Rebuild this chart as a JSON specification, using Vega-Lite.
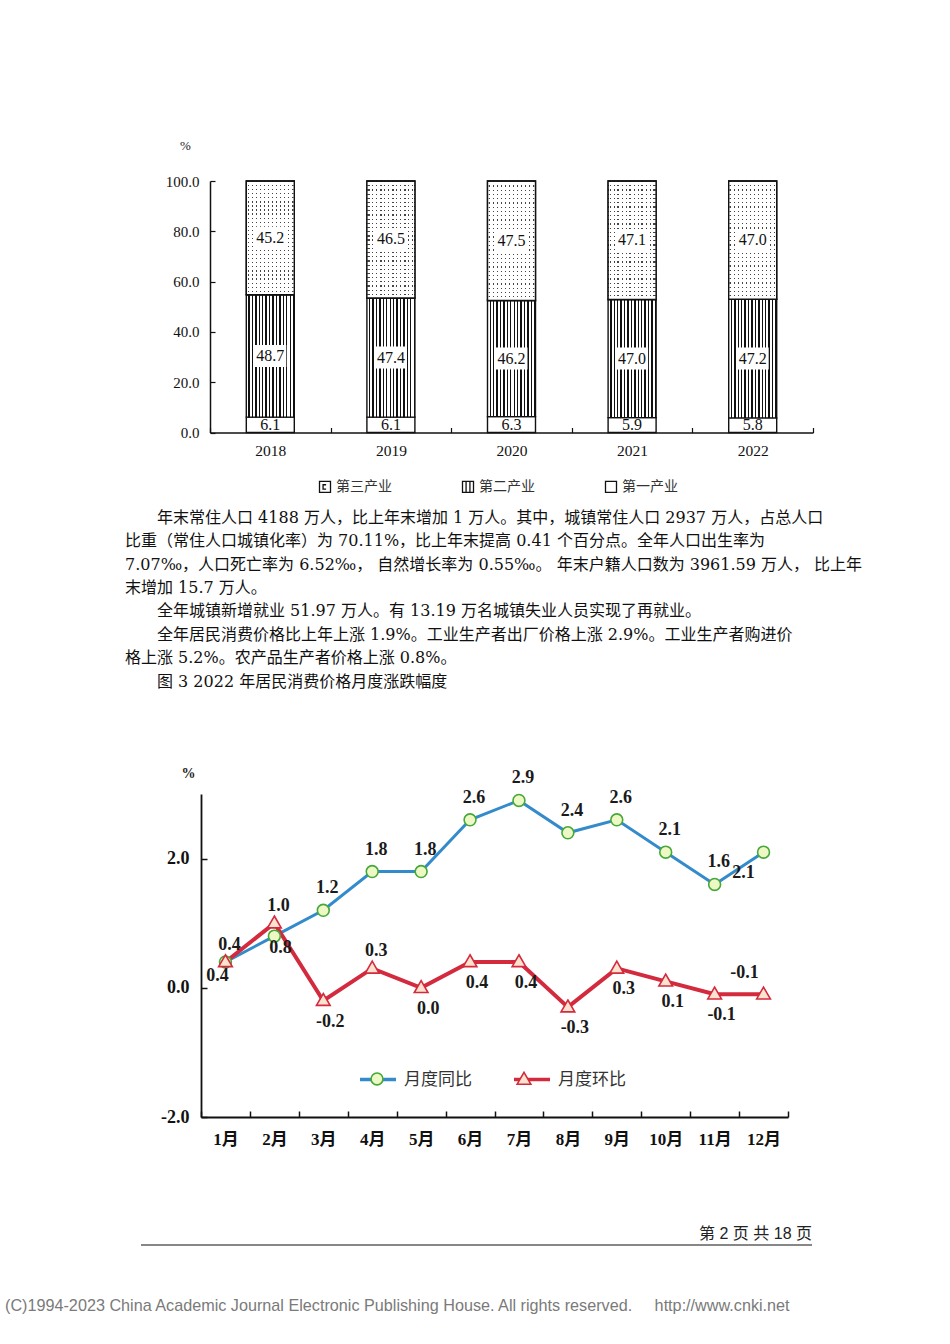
{
"$schema": "https://vega.github.io/schema/vega-lite/v6.json",
"autosize": {"type": "none"},
"padding": {"left": 0, "top": 0, "right": 950, "bottom": 1344},
"background": "#ffffff",
"config": {"view": {"stroke": null}, "axis": {"grid": false}},
"spacing": 0,
"bounds": "flush",
"resolve": {"scale": {"shape": "independent", "stroke": "independent", "fill": "independent"}, "legend": {"shape": "independent", "stroke": "independent", "fill": "independent"}},
"vconcat": [
{"vconcat": [
 {"width": 1, "height": 180.5, "data": {"values": [{"s": ""}]}, "mark": {"type": "text"}, "encoding": {"text": {"field": "s"}}},
 {"hconcat": [
  {"width": 210, "height": 1, "data": {"values": [{"s": ""}]}, "mark": {"type": "text"}, "encoding": {"text": {"field": "s"}}},
  {"width": 603, "height": 251.5,
   "data": {"values": [
    {"year": "2018", "industry": "第一产业", "value": 6.1},
    {"year": "2018", "industry": "第二产业", "value": 48.7},
    {"year": "2018", "industry": "第三产业", "value": 45.2},
    {"year": "2019", "industry": "第一产业", "value": 6.1},
    {"year": "2019", "industry": "第二产业", "value": 47.4},
    {"year": "2019", "industry": "第三产业", "value": 46.5},
    {"year": "2020", "industry": "第一产业", "value": 6.3},
    {"year": "2020", "industry": "第二产业", "value": 46.2},
    {"year": "2020", "industry": "第三产业", "value": 47.5},
    {"year": "2021", "industry": "第一产业", "value": 5.9},
    {"year": "2021", "industry": "第二产业", "value": 47.0},
    {"year": "2021", "industry": "第三产业", "value": 47.1},
    {"year": "2022", "industry": "第一产业", "value": 5.8},
    {"year": "2022", "industry": "第二产业", "value": 47.2},
    {"year": "2022", "industry": "第三产业", "value": 47.0}
   ]},
   "transform": [
    {"calculate": "indexof(['第一产业','第二产业','第三产业'], datum.industry)", "as": "rank"},
    {"stack": "value", "groupby": ["year"], "sort": [{"field": "rank", "order": "ascending"}], "as": ["v0", "v1"]},
    {"calculate": "(datum.v0 + datum.v1) / 2", "as": "mid"}
   ],
   "encoding": {
    "x": {"field": "year", "type": "nominal", "scale": {"type": "band", "paddingInner": 0, "paddingOuter": 0},
      "axis": {"title": null, "labelAngle": 0, "tickBand": "extent", "tickSize": -5, "tickColor": "#111", "tickWidth": 1.2, "domainColor": "#111", "domainWidth": 1.5, "labelFont": "Liberation Serif", "labelFontSize": 15.5, "labelColor": "#111", "labelPadding": 16, "labelBaseline": "top"}}
   },
   "layer": [
    {"mark": {"type": "bar", "width": 48, "stroke": "#111", "strokeWidth": 1.4},
     "encoding": {
      "y": {"field": "v0", "type": "quantitative", "scale": {"domain": [0, 100], "nice": false},
        "axis": {"values": [0, 20, 40, 60, 80, 100], "format": ".1f", "title": "%", "titleAngle": 0, "titleX": -25, "titleY": -36, "titleAlign": "center", "titleBaseline": "middle", "titleFont": "Liberation Serif", "titleFontSize": 13, "titleFontWeight": "normal", "titleColor": "#222", "tickSize": -5, "tickColor": "#111", "tickWidth": 1.2, "domainColor": "#111", "domainWidth": 1.5, "labelFont": "Liberation Serif", "labelFontSize": 15, "labelColor": "#111", "labelPadding": 16}},
      "y2": {"field": "v1"},
      "fill": {"condition": [
        {"test": "datum.industry === '第二产业'", "value": {"gradient": "linear", "x1": 0, "y1": 0, "x2": 1, "y2": 0, "stops": [
          {"offset": 0, "color": "#ffffff"}, {"offset": 0.0429, "color": "#ffffff"}, {"offset": 0.0429, "color": "#111111"}, {"offset": 0.0714, "color": "#111111"},
          {"offset": 0.0714, "color": "#ffffff"}, {"offset": 0.1143, "color": "#ffffff"}, {"offset": 0.1143, "color": "#111111"}, {"offset": 0.1429, "color": "#111111"},
          {"offset": 0.1429, "color": "#ffffff"}, {"offset": 0.1857, "color": "#ffffff"}, {"offset": 0.1857, "color": "#111111"}, {"offset": 0.2143, "color": "#111111"},
          {"offset": 0.2143, "color": "#ffffff"}, {"offset": 0.2571, "color": "#ffffff"}, {"offset": 0.2571, "color": "#111111"}, {"offset": 0.2857, "color": "#111111"},
          {"offset": 0.2857, "color": "#ffffff"}, {"offset": 0.3286, "color": "#ffffff"}, {"offset": 0.3286, "color": "#111111"}, {"offset": 0.3571, "color": "#111111"},
          {"offset": 0.3571, "color": "#ffffff"}, {"offset": 0.4, "color": "#ffffff"}, {"offset": 0.4, "color": "#111111"}, {"offset": 0.4286, "color": "#111111"},
          {"offset": 0.4286, "color": "#ffffff"}, {"offset": 0.4714, "color": "#ffffff"}, {"offset": 0.4714, "color": "#111111"}, {"offset": 0.5, "color": "#111111"},
          {"offset": 0.5, "color": "#ffffff"}, {"offset": 0.5429, "color": "#ffffff"}, {"offset": 0.5429, "color": "#111111"}, {"offset": 0.5714, "color": "#111111"},
          {"offset": 0.5714, "color": "#ffffff"}, {"offset": 0.6143, "color": "#ffffff"}, {"offset": 0.6143, "color": "#111111"}, {"offset": 0.6429, "color": "#111111"},
          {"offset": 0.6429, "color": "#ffffff"}, {"offset": 0.6857, "color": "#ffffff"}, {"offset": 0.6857, "color": "#111111"}, {"offset": 0.7143, "color": "#111111"},
          {"offset": 0.7143, "color": "#ffffff"}, {"offset": 0.7571, "color": "#ffffff"}, {"offset": 0.7571, "color": "#111111"}, {"offset": 0.7857, "color": "#111111"},
          {"offset": 0.7857, "color": "#ffffff"}, {"offset": 0.8286, "color": "#ffffff"}, {"offset": 0.8286, "color": "#111111"}, {"offset": 0.8571, "color": "#111111"},
          {"offset": 0.8571, "color": "#ffffff"}, {"offset": 0.9, "color": "#ffffff"}, {"offset": 0.9, "color": "#111111"}, {"offset": 0.9286, "color": "#111111"},
          {"offset": 0.9286, "color": "#ffffff"}, {"offset": 0.9714, "color": "#ffffff"}, {"offset": 0.9714, "color": "#111111"}, {"offset": 1, "color": "#111111"}
        ]}},
        {"test": "datum.industry === '第三产业'", "value": {"gradient": "linear", "x1": 0, "y1": 0, "x2": 1, "y2": 0, "stops": [
          {"offset": 0, "color": "#ffffff"},
          {"offset": 0.0292, "color": "#ffffff"}, {"offset": 0.0292, "color": "#444444"}, {"offset": 0.0542, "color": "#444444"}, {"offset": 0.0542, "color": "#ffffff"},
          {"offset": 0.1125, "color": "#ffffff"}, {"offset": 0.1125, "color": "#444444"}, {"offset": 0.1375, "color": "#444444"}, {"offset": 0.1375, "color": "#ffffff"},
          {"offset": 0.1958, "color": "#ffffff"}, {"offset": 0.1958, "color": "#444444"}, {"offset": 0.2208, "color": "#444444"}, {"offset": 0.2208, "color": "#ffffff"},
          {"offset": 0.2792, "color": "#ffffff"}, {"offset": 0.2792, "color": "#444444"}, {"offset": 0.3042, "color": "#444444"}, {"offset": 0.3042, "color": "#ffffff"},
          {"offset": 0.3625, "color": "#ffffff"}, {"offset": 0.3625, "color": "#444444"}, {"offset": 0.3875, "color": "#444444"}, {"offset": 0.3875, "color": "#ffffff"},
          {"offset": 0.4458, "color": "#ffffff"}, {"offset": 0.4458, "color": "#444444"}, {"offset": 0.4708, "color": "#444444"}, {"offset": 0.4708, "color": "#ffffff"},
          {"offset": 0.5292, "color": "#ffffff"}, {"offset": 0.5292, "color": "#444444"}, {"offset": 0.5542, "color": "#444444"}, {"offset": 0.5542, "color": "#ffffff"},
          {"offset": 0.6125, "color": "#ffffff"}, {"offset": 0.6125, "color": "#444444"}, {"offset": 0.6375, "color": "#444444"}, {"offset": 0.6375, "color": "#ffffff"},
          {"offset": 0.6958, "color": "#ffffff"}, {"offset": 0.6958, "color": "#444444"}, {"offset": 0.7208, "color": "#444444"}, {"offset": 0.7208, "color": "#ffffff"},
          {"offset": 0.7792, "color": "#ffffff"}, {"offset": 0.7792, "color": "#444444"}, {"offset": 0.8042, "color": "#444444"}, {"offset": 0.8042, "color": "#ffffff"},
          {"offset": 0.8625, "color": "#ffffff"}, {"offset": 0.8625, "color": "#444444"}, {"offset": 0.8875, "color": "#444444"}, {"offset": 0.8875, "color": "#ffffff"},
          {"offset": 0.9458, "color": "#ffffff"}, {"offset": 0.9458, "color": "#444444"}, {"offset": 0.9708, "color": "#444444"}, {"offset": 0.9708, "color": "#ffffff"},
          {"offset": 1, "color": "#ffffff"}
        ]}}
       ], "value": "#ffffff"}
     }},
    {"transform": [{"filter": "datum.industry === '第三产业'"}],
     "mark": {"type": "bar", "width": 48, "stroke": "#111", "strokeWidth": 1.4, "fill": {"gradient": "linear", "x1": 0, "y1": 0, "x2": 0, "y2": 1, "stops": [
       {"offset": 0, "color": "rgba(255,255,255,0)"}, {"offset": 0.0107, "color": "rgba(255,255,255,0)"}, {"offset": 0.0107, "color": "#ffffff"}, {"offset": 0.0357, "color": "#ffffff"},
       {"offset": 0.0357, "color": "rgba(255,255,255,0)"}, {"offset": 0.0464, "color": "rgba(255,255,255,0)"}, {"offset": 0.0464, "color": "#ffffff"}, {"offset": 0.0714, "color": "#ffffff"},
       {"offset": 0.0714, "color": "rgba(255,255,255,0)"}, {"offset": 0.0821, "color": "rgba(255,255,255,0)"}, {"offset": 0.0821, "color": "#ffffff"}, {"offset": 0.1071, "color": "#ffffff"},
       {"offset": 0.1071, "color": "rgba(255,255,255,0)"}, {"offset": 0.1179, "color": "rgba(255,255,255,0)"}, {"offset": 0.1179, "color": "#ffffff"}, {"offset": 0.1429, "color": "#ffffff"},
       {"offset": 0.1429, "color": "rgba(255,255,255,0)"}, {"offset": 0.1536, "color": "rgba(255,255,255,0)"}, {"offset": 0.1536, "color": "#ffffff"}, {"offset": 0.1786, "color": "#ffffff"},
       {"offset": 0.1786, "color": "rgba(255,255,255,0)"}, {"offset": 0.1893, "color": "rgba(255,255,255,0)"}, {"offset": 0.1893, "color": "#ffffff"}, {"offset": 0.2143, "color": "#ffffff"},
       {"offset": 0.2143, "color": "rgba(255,255,255,0)"}, {"offset": 0.225, "color": "rgba(255,255,255,0)"}, {"offset": 0.225, "color": "#ffffff"}, {"offset": 0.25, "color": "#ffffff"},
       {"offset": 0.25, "color": "rgba(255,255,255,0)"}, {"offset": 0.2607, "color": "rgba(255,255,255,0)"}, {"offset": 0.2607, "color": "#ffffff"}, {"offset": 0.2857, "color": "#ffffff"},
       {"offset": 0.2857, "color": "rgba(255,255,255,0)"}, {"offset": 0.2964, "color": "rgba(255,255,255,0)"}, {"offset": 0.2964, "color": "#ffffff"}, {"offset": 0.3214, "color": "#ffffff"},
       {"offset": 0.3214, "color": "rgba(255,255,255,0)"}, {"offset": 0.3321, "color": "rgba(255,255,255,0)"}, {"offset": 0.3321, "color": "#ffffff"}, {"offset": 0.3571, "color": "#ffffff"},
       {"offset": 0.3571, "color": "rgba(255,255,255,0)"}, {"offset": 0.3679, "color": "rgba(255,255,255,0)"}, {"offset": 0.3679, "color": "#ffffff"}, {"offset": 0.3929, "color": "#ffffff"},
       {"offset": 0.3929, "color": "rgba(255,255,255,0)"}, {"offset": 0.4036, "color": "rgba(255,255,255,0)"}, {"offset": 0.4036, "color": "#ffffff"}, {"offset": 0.4286, "color": "#ffffff"},
       {"offset": 0.4286, "color": "rgba(255,255,255,0)"}, {"offset": 0.4393, "color": "rgba(255,255,255,0)"}, {"offset": 0.4393, "color": "#ffffff"}, {"offset": 0.4643, "color": "#ffffff"},
       {"offset": 0.4643, "color": "rgba(255,255,255,0)"}, {"offset": 0.475, "color": "rgba(255,255,255,0)"}, {"offset": 0.475, "color": "#ffffff"}, {"offset": 0.5, "color": "#ffffff"},
       {"offset": 0.5, "color": "rgba(255,255,255,0)"}, {"offset": 0.5107, "color": "rgba(255,255,255,0)"}, {"offset": 0.5107, "color": "#ffffff"}, {"offset": 0.5357, "color": "#ffffff"},
       {"offset": 0.5357, "color": "rgba(255,255,255,0)"}, {"offset": 0.5464, "color": "rgba(255,255,255,0)"}, {"offset": 0.5464, "color": "#ffffff"}, {"offset": 0.5714, "color": "#ffffff"},
       {"offset": 0.5714, "color": "rgba(255,255,255,0)"}, {"offset": 0.5821, "color": "rgba(255,255,255,0)"}, {"offset": 0.5821, "color": "#ffffff"}, {"offset": 0.6071, "color": "#ffffff"},
       {"offset": 0.6071, "color": "rgba(255,255,255,0)"}, {"offset": 0.6179, "color": "rgba(255,255,255,0)"}, {"offset": 0.6179, "color": "#ffffff"}, {"offset": 0.6429, "color": "#ffffff"},
       {"offset": 0.6429, "color": "rgba(255,255,255,0)"}, {"offset": 0.6536, "color": "rgba(255,255,255,0)"}, {"offset": 0.6536, "color": "#ffffff"}, {"offset": 0.6786, "color": "#ffffff"},
       {"offset": 0.6786, "color": "rgba(255,255,255,0)"}, {"offset": 0.6893, "color": "rgba(255,255,255,0)"}, {"offset": 0.6893, "color": "#ffffff"}, {"offset": 0.7143, "color": "#ffffff"},
       {"offset": 0.7143, "color": "rgba(255,255,255,0)"}, {"offset": 0.725, "color": "rgba(255,255,255,0)"}, {"offset": 0.725, "color": "#ffffff"}, {"offset": 0.75, "color": "#ffffff"},
       {"offset": 0.75, "color": "rgba(255,255,255,0)"}, {"offset": 0.7607, "color": "rgba(255,255,255,0)"}, {"offset": 0.7607, "color": "#ffffff"}, {"offset": 0.7857, "color": "#ffffff"},
       {"offset": 0.7857, "color": "rgba(255,255,255,0)"}, {"offset": 0.7964, "color": "rgba(255,255,255,0)"}, {"offset": 0.7964, "color": "#ffffff"}, {"offset": 0.8214, "color": "#ffffff"},
       {"offset": 0.8214, "color": "rgba(255,255,255,0)"}, {"offset": 0.8321, "color": "rgba(255,255,255,0)"}, {"offset": 0.8321, "color": "#ffffff"}, {"offset": 0.8571, "color": "#ffffff"},
       {"offset": 0.8571, "color": "rgba(255,255,255,0)"}, {"offset": 0.8679, "color": "rgba(255,255,255,0)"}, {"offset": 0.8679, "color": "#ffffff"}, {"offset": 0.8929, "color": "#ffffff"},
       {"offset": 0.8929, "color": "rgba(255,255,255,0)"}, {"offset": 0.9036, "color": "rgba(255,255,255,0)"}, {"offset": 0.9036, "color": "#ffffff"}, {"offset": 0.9286, "color": "#ffffff"},
       {"offset": 0.9286, "color": "rgba(255,255,255,0)"}, {"offset": 0.9393, "color": "rgba(255,255,255,0)"}, {"offset": 0.9393, "color": "#ffffff"}, {"offset": 0.9643, "color": "#ffffff"},
       {"offset": 0.9643, "color": "rgba(255,255,255,0)"}, {"offset": 0.975, "color": "rgba(255,255,255,0)"}, {"offset": 0.975, "color": "#ffffff"}, {"offset": 1, "color": "#ffffff"}
     ]}},
     "encoding": {"y": {"field": "v0", "type": "quantitative"}, "y2": {"field": "v1"}}},
    {"transform": [{"filter": "datum.industry !== '第一产业'"}],
     "mark": {"type": "point", "shape": "M-1,-0.69H1V0.69H-1Z", "size": 1024, "filled": true, "color": "#ffffff", "opacity": 1, "strokeWidth": 0},
     "encoding": {"y": {"field": "mid", "type": "quantitative"}}},
    {"mark": {"type": "text", "font": "Liberation Serif", "fontSize": 16, "color": "#111111", "baseline": "middle"},
     "encoding": {"y": {"field": "mid", "type": "quantitative"}, "text": {"field": "value", "type": "quantitative", "format": ".1f"}}},
    {"mark": {"type": "point", "opacity": 0},
     "encoding": {"shape": {"field": "industry", "type": "nominal",
       "scale": {"domain": ["第三产业", "第二产业", "第一产业"], "range": ["M-1,-1H1V1H-1Z M0.2,-0.4H-0.35V0.4H0.2", "M-1,-1H1V1H-1Z M-0.35,-1V1 M0.35,-1V1", "M-1,-1H1V1H-1Z"]},
       "legend": {"orient": "none", "legendX": 108, "legendY": 298.5, "direction": "horizontal", "title": null, "symbolSize": 121, "symbolStrokeColor": "#111", "symbolFillColor": "#ffffff", "symbolStrokeWidth": 1.3, "symbolOpacity": 1, "labelFont": "Noto Sans CJK SC", "labelFontSize": 14, "labelColor": "#333", "labelOpacity": 1, "labelOffset": 4, "columnPadding": 67, "padding": 0}}}}
   ]}
 ], "spacing": 0, "bounds": "flush",
 "resolve": {"scale": {"shape": "independent"}, "legend": {"shape": "independent"}}}
], "spacing": 0, "bounds": "flush",
 "resolve": {"scale": {"shape": "independent"}, "legend": {"shape": "independent"}}},
{"vconcat": [
 {"width": 1, "height": 505.3, "data": {"values": [{"s": ""}]}, "mark": {"type": "text"}, "encoding": {"text": {"field": "s"}}},
 {"hconcat": [
  {"width": 125, "height": 1, "data": {"values": [{"s": ""}]}, "mark": {"type": "text"}, "encoding": {"text": {"field": "s"}}},
  {"width": 720, "height": 187.5,
   "data": {"values": [
    {"line": 1, "text": "\u200b　　年末常住人口 4188 万人，比上年末增加 1 万人。其中，城镇常住人口 2937 万人，占总人口"},
    {"line": 2, "text": "比重（常住人口城镇化率）为 70.11%，比上年末提高 0.41 个百分点。全年人口出生率为"},
    {"line": 3, "text": "7.07‰，人口死亡率为 6.52‰， 自然增长率为 0.55‰。 年末户籍人口数为 3961.59 万人， 比上年"},
    {"line": 4, "text": "末增加 15.7 万人。"},
    {"line": 5, "text": "\u200b　　全年城镇新增就业 51.97 万人。有 13.19 万名城镇失业人员实现了再就业。"},
    {"line": 6, "text": "\u200b　　全年居民消费价格比上年上涨 1.9%。工业生产者出厂价格上涨 2.9%。工业生产者购进价"},
    {"line": 7, "text": "格上涨 5.2%。农产品生产者价格上涨 0.8%。"},
    {"line": 8, "text": "\u200b　　图 3 2022 年居民消费价格月度涨跌幅度"}
   ]},
   "mark": {"type": "text", "align": "left", "baseline": "middle", "font": "DejaVu Serif, Noto Sans CJK SC", "fontSize": 16, "color": "#111"},
   "encoding": {"x": {"value": 0}, "y": {"field": "line", "type": "ordinal", "axis": null}, "text": {"field": "text"}}}
 ], "spacing": 0, "bounds": "flush"}
], "spacing": 0, "bounds": "flush"},
{"vconcat": [
 {"width": 1, "height": 793.5, "data": {"values": [{"s": ""}]}, "mark": {"type": "text"}, "encoding": {"text": {"field": "s"}}},
 {"hconcat": [
  {"width": 201, "height": 1, "data": {"values": [{"s": ""}]}, "mark": {"type": "text"}, "encoding": {"text": {"field": "s"}}},
  {"width": 587, "height": 323,
   "data": {"values": [
    {"month": "1月", "series": "月度同比", "value": 0.4},
    {"month": "2月", "series": "月度同比", "value": 0.8},
    {"month": "3月", "series": "月度同比", "value": 1.2},
    {"month": "4月", "series": "月度同比", "value": 1.8},
    {"month": "5月", "series": "月度同比", "value": 1.8},
    {"month": "6月", "series": "月度同比", "value": 2.6},
    {"month": "7月", "series": "月度同比", "value": 2.9},
    {"month": "8月", "series": "月度同比", "value": 2.4},
    {"month": "9月", "series": "月度同比", "value": 2.6},
    {"month": "10月", "series": "月度同比", "value": 2.1},
    {"month": "11月", "series": "月度同比", "value": 1.6},
    {"month": "12月", "series": "月度同比", "value": 2.1},
    {"month": "1月", "series": "月度环比", "value": 0.4},
    {"month": "2月", "series": "月度环比", "value": 1.0},
    {"month": "3月", "series": "月度环比", "value": -0.2},
    {"month": "4月", "series": "月度环比", "value": 0.3},
    {"month": "5月", "series": "月度环比", "value": 0.0},
    {"month": "6月", "series": "月度环比", "value": 0.4},
    {"month": "7月", "series": "月度环比", "value": 0.4},
    {"month": "8月", "series": "月度环比", "value": -0.3},
    {"month": "9月", "series": "月度环比", "value": 0.3},
    {"month": "10月", "series": "月度环比", "value": 0.1},
    {"month": "11月", "series": "月度环比", "value": -0.1},
    {"month": "12月", "series": "月度环比", "value": -0.1}
   ]},
   "transform": [{"calculate": "replace(format(datum.value, '.1f'), '\u2212', '-')", "as": "lbl"}],
   "encoding": {
    "x": {"field": "month", "type": "nominal",
      "scale": {"type": "band", "paddingInner": 0, "paddingOuter": 0, "domain": ["1月","2月","3月","4月","5月","6月","7月","8月","9月","10月","11月","12月"]},
      "axis": {"title": null, "labelAngle": 0, "tickBand": "extent", "tickSize": -6, "tickColor": "#111", "tickWidth": 1.5, "domainColor": "#111", "domainWidth": 1.8, "labelFont": "Liberation Serif, Noto Sans CJK SC", "labelFontSize": 17, "labelFontWeight": "bold", "labelColor": "#111", "labelPadding": 20, "labelBaseline": "top"}},
    "y": {"field": "value", "type": "quantitative", "scale": {"domain": [-2, 3], "nice": false, "zero": false},
      "axis": {"values": [-2, 0, 2], "format": ".1f", "labelExpr": "replace(datum.label, '\u2212', '-')", "title": "%", "titleAngle": 0, "titleX": -13, "titleY": -21, "titleAlign": "center", "titleBaseline": "middle", "titleFont": "Liberation Serif", "titleFontSize": 14, "titleFontWeight": "bold", "titleColor": "#222", "tickSize": -6, "tickColor": "#111", "tickWidth": 1.5, "domainColor": "#111", "domainWidth": 1.8, "labelFont": "Liberation Serif", "labelFontSize": 18, "labelFontWeight": "bold", "labelColor": "#111", "labelPadding": 18}}
   },
   "resolve": {"scale": {"stroke": "independent", "shape": "independent", "fill": "independent"}, "legend": {"stroke": "independent", "shape": "independent", "fill": "independent"}},
   "layer": [
    {"mark": {"type": "line"},
     "encoding": {
      "stroke": {"field": "series", "type": "nominal", "scale": {"domain": ["月度同比", "月度环比"], "range": ["#338bcb", "#d32a3e"]},
        "legend": {"orient": "none", "legendX": 157, "legendY": 265.5, "direction": "horizontal", "title": null, "symbolType": "M-1,0H1", "symbolSize": 1296, "symbolStrokeWidth": 3.5, "labelFont": "Noto Sans CJK SC", "labelFontSize": 17, "labelColor": "#333", "labelOffset": 6, "columnPadding": 35, "padding": 0}},
      "strokeWidth": {"condition": {"test": "datum.series === '月度环比'", "value": 4}, "value": 3}
     }},
    {"mark": {"type": "point", "size": 1296, "opacity": 1, "strokeWidth": 1.6},
     "encoding": {
      "shape": {"field": "series", "type": "nominal",
        "scale": {"range": ["M0.33,0A0.33,0.33 0 1,1 -0.33,0A0.33,0.33 0 1,1 0.33,0Z", "M0,-0.4L0.38,0.26L-0.38,0.26Z"]},
        "legend": {"orient": "none", "legendX": 157, "legendY": 265.5, "direction": "horizontal", "title": null, "symbolSize": 1296, "symbolStrokeWidth": 1.6, "symbolOpacity": 1, "labelExpr": "''", "labelFontSize": 17, "labelOffset": 6, "columnPadding": 103, "padding": 0}},
      "fill": {"field": "series", "type": "nominal", "scale": {"range": ["#eef8c4", "#fde3cf"]},
        "legend": {"orient": "none", "legendX": 157, "legendY": 265.5, "direction": "horizontal", "title": null, "symbolSize": 1296, "symbolStrokeWidth": 1.6, "symbolOpacity": 1, "labelExpr": "''", "labelFontSize": 17, "labelOffset": 6, "columnPadding": 103, "padding": 0}},
      "stroke": {"field": "series", "type": "nominal", "scale": {"range": ["#45a83a", "#d32a3e"]},
        "legend": {"orient": "none", "legendX": 157, "legendY": 265.5, "direction": "horizontal", "title": null, "symbolSize": 1296, "symbolStrokeWidth": 1.6, "symbolOpacity": 1, "labelExpr": "''", "labelFontSize": 17, "labelOffset": 6, "columnPadding": 103, "padding": 0}}
     }},
    {"transform": [{"filter": "datum.series === '月度同比' && indexof(['1月','2月','12月'], datum.month) < 0"}],
     "mark": {"type": "text", "font": "Liberation Serif", "fontSize": 18, "fontWeight": "bold", "color": "#1a1a1a", "baseline": "middle", "dx": 4, "dy": -22},
     "encoding": {"text": {"field": "lbl"}}},
    {"transform": [{"filter": "datum.series === '月度同比' && datum.month === '2月'"}],
     "mark": {"type": "text", "font": "Liberation Serif", "fontSize": 18, "fontWeight": "bold", "color": "#1a1a1a", "baseline": "middle", "dx": 6, "dy": 12},
     "encoding": {"text": {"field": "lbl"}}},
    {"transform": [{"filter": "datum.series === '月度同比' && datum.month === '1月'"}],
     "mark": {"type": "text", "font": "Liberation Serif", "fontSize": 18, "fontWeight": "bold", "color": "#1a1a1a", "baseline": "middle", "dx": -8, "dy": 14},
     "encoding": {"text": {"field": "lbl"}}},
    {"transform": [{"filter": "datum.series === '月度同比' && datum.month === '12月'"}],
     "mark": {"type": "text", "font": "Liberation Serif", "fontSize": 18, "fontWeight": "bold", "color": "#1a1a1a", "baseline": "middle", "dx": -20, "dy": 21},
     "encoding": {"text": {"field": "lbl"}}},
    {"transform": [{"filter": "datum.series === '月度环比' && indexof(['1月','2月','4月'], datum.month) >= 0"}],
     "mark": {"type": "text", "font": "Liberation Serif", "fontSize": 18, "fontWeight": "bold", "color": "#1a1a1a", "baseline": "middle", "dx": 4, "dy": -17},
     "encoding": {"text": {"field": "lbl"}}},
    {"transform": [{"filter": "datum.series === '月度环比' && indexof(['1月','2月','4月','12月'], datum.month) < 0"}],
     "mark": {"type": "text", "font": "Liberation Serif", "fontSize": 18, "fontWeight": "bold", "color": "#1a1a1a", "baseline": "middle", "dx": 7, "dy": 21},
     "encoding": {"text": {"field": "lbl"}}},
    {"transform": [{"filter": "datum.series === '月度环比' && datum.month === '12月'"}],
     "mark": {"type": "text", "font": "Liberation Serif", "fontSize": 18, "fontWeight": "bold", "color": "#1a1a1a", "baseline": "middle", "dx": -19, "dy": -21},
     "encoding": {"text": {"field": "lbl"}}}
   ]}
 ], "spacing": 0, "bounds": "flush",
 "resolve": {"scale": {"shape": "independent", "stroke": "independent", "fill": "independent"}, "legend": {"shape": "independent", "stroke": "independent", "fill": "independent"}}}
], "spacing": 0, "bounds": "flush",
 "resolve": {"scale": {"shape": "independent", "stroke": "independent", "fill": "independent"}, "legend": {"shape": "independent", "stroke": "independent", "fill": "independent"}}},
{"vconcat": [
 {"width": 1, "height": 1222, "data": {"values": [{"s": ""}]}, "mark": {"type": "text"}, "encoding": {"text": {"field": "s"}}},
 {"hconcat": [
  {"width": 141, "height": 1, "data": {"values": [{"s": ""}]}, "mark": {"type": "text"}, "encoding": {"text": {"field": "s"}}},
  {"width": 671, "height": 23,
   "data": {"values": [{"page": "第 2 页 共 18 页"}]},
   "layer": [
    {"mark": {"type": "rule", "color": "#111", "strokeWidth": 1.2}, "encoding": {"x": {"value": 0}, "x2": {"value": "width"}, "y": {"value": "height"}}},
    {"mark": {"type": "text", "align": "right", "baseline": "middle", "font": "Liberation Sans, Noto Sans CJK SC", "fontSize": 16, "color": "#222"}, "encoding": {"x": {"value": "width"}, "y": {"value": 12}, "text": {"field": "page"}}}
   ]}
 ], "spacing": 0, "bounds": "flush"}
], "spacing": 0, "bounds": "flush"},
{"vconcat": [
 {"width": 1, "height": 1296, "data": {"values": [{"s": ""}]}, "mark": {"type": "text"}, "encoding": {"text": {"field": "s"}}},
 {"hconcat": [
  {"width": 5, "height": 1, "data": {"values": [{"s": ""}]}, "mark": {"type": "text"}, "encoding": {"text": {"field": "s"}}},
  {"width": 900, "height": 20,
   "data": {"values": [{"t": "(C)1994-2023 China Academic Journal Electronic Publishing House. All rights reserved.\u00a0\u00a0\u00a0\u00a0 http://www.cnki.net"}]},
   "mark": {"type": "text", "align": "left", "baseline": "middle", "font": "Liberation Sans", "fontSize": 16.2, "color": "#7a7a7a"},
   "encoding": {"x": {"value": 0}, "text": {"field": "t"}}}
 ], "spacing": 0, "bounds": "flush"}
], "spacing": 0, "bounds": "flush"}
]
}
